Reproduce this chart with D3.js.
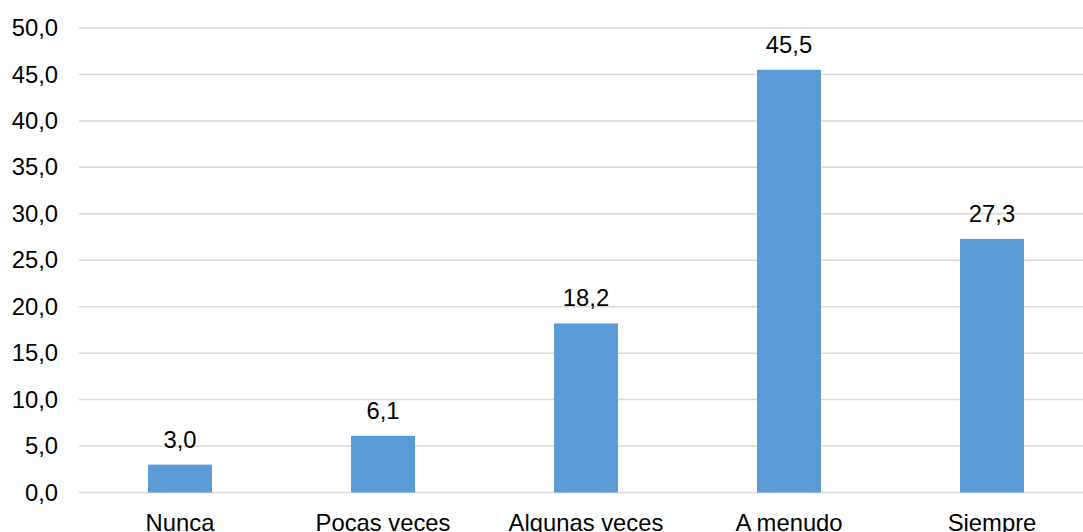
<!DOCTYPE html>
<html>
<head>
<meta charset="utf-8">
<script src="https://cdn.jsdelivr.net/npm/d3@7"></script>
<style>
  html, body { margin: 0; padding: 0; background: #fff; }
  svg { display: block; font-family: "Liberation Sans", Arial, sans-serif; }
</style>
</head>
<body>
<svg id="chart" width="1083" height="532"></svg>
<script>
const categories = ["Nunca", "Pocas veces", "Algunas veces", "A menudo", "Siempre"];
const values = [3.0, 6.1, 18.2, 45.5, 27.3];
const yTicks = [0, 5, 10, 15, 20, 25, 30, 35, 40, 45, 50];

const FONT = 23.8;
const svg = d3.select("#chart");
const fmt = v => d3.format(".1f")(v).replace(".", ",");

const x = d3.scaleBand()
  .domain(categories)
  .range([78.5, 1093.5])
  .paddingInner(0.685)
  .paddingOuter(0.3425);

const y = d3.scaleLinear().domain([0, 50]).range([492.5, 28]);

// horizontal gridlines
svg.append("g")
  .selectAll("line")
  .data(yTicks)
  .join("line")
  .attr("x1", 79)
  .attr("x2", 1083)
  .attr("y1", d => y(d))
  .attr("y2", d => y(d))
  .attr("stroke", "#d9d9d9")
  .attr("stroke-width", 1.5);

// y axis labels
const yAxis = d3.axisLeft(y).tickValues(yTicks).tickFormat(fmt).tickSize(0).tickPadding(0);
svg.append("g")
  .attr("transform", "translate(58,0)")
  .call(yAxis)
  .call(g => g.select(".domain").remove())
  .call(g => g.selectAll("text")
    .attr("font-size", FONT)
    .attr("font-family", "Liberation Sans, Arial, sans-serif")
    .attr("fill", "#000"));

// bars
svg.append("g")
  .selectAll("rect")
  .data(values)
  .join("rect")
  .attr("x", (d, i) => x(categories[i]))
  .attr("width", x.bandwidth())
  .attr("y", d => y(d))
  .attr("height", d => y(0) - y(d))
  .attr("fill", "#5b9bd5");

// value labels
svg.append("g")
  .selectAll("text")
  .data(values)
  .join("text")
  .attr("x", (d, i) => x(categories[i]) + x.bandwidth() / 2)
  .attr("y", d => y(d) - 17)
  .attr("text-anchor", "middle")
  .attr("font-size", FONT)
  .attr("fill", "#000")
  .text(d => fmt(d));

// category labels
const xAxis = d3.axisBottom(x).tickSize(0).tickPadding(0);
svg.append("g")
  .attr("transform", "translate(0,492.5)")
  .call(xAxis)
  .call(g => g.select(".domain").remove())
  .call(g => g.selectAll("text")
    .attr("dy", null)
    .attr("y", 38)
    .attr("font-size", FONT)
    .attr("font-family", "Liberation Sans, Arial, sans-serif")
    .attr("fill", "#000"));
</script>
</body>
</html>
